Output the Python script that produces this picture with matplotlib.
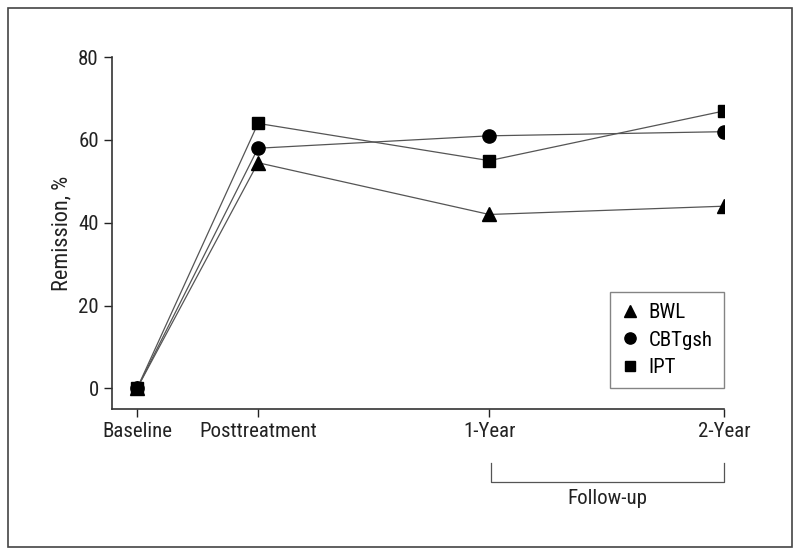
import matplotlib
matplotlib.use("Agg")
import matplotlib.pyplot as plt
from matplotlib.patches import Rectangle
from matplotlib.lines import Line2D

plt.rcParams['font.family'] = ['Roboto Condensed', 'Liberation Sans Narrow', 'Roboto', 'DejaVu Sans']

categories = ["Baseline", "Posttreatment", "1-Year", "2-Year"]
x_pos = [0, 0.515, 1.5, 2.5]
bwl = [0, 54.5, 42, 44]
cbt = [0, 58, 61, 62]
ipt = [0, 64, 55, 67]
yticks = [0, 20, 40, 60, 80]

fig = plt.figure(figsize=(8, 5.55), dpi=100)
ax = fig.add_axes([0.14, 0.263, 0.765, 0.634])

line_color = "#555555"
ax.plot(x_pos, bwl, color=line_color, lw=0.9, marker="^", ms=9.5, mfc="black", mec="black", label="BWL", zorder=3)
ax.plot(x_pos, cbt, color=line_color, lw=0.9, marker="o", ms=9.5, mfc="black", mec="black", label="CBTgsh", zorder=3)
ax.plot(x_pos, ipt, color=line_color, lw=0.9, marker="s", ms=8.5, mfc="black", mec="black", label="IPT", zorder=3)

ax.set_xlim(-0.107, 2.5)
ax.set_ylim(-5, 80)
ax.set_yticks(yticks)
ax.set_xticks(x_pos)
ax.set_xticklabels(categories)
ax.tick_params(labelsize=15, colors="#222222", length=6, width=1)
ax.set_ylabel("Remission, %", fontsize=16, color="#222222", labelpad=4)
for s in ["top", "right"]:
    ax.spines[s].set_visible(False)
for s in ["left", "bottom"]:
    ax.spines[s].set_color("#333333")
    ax.spines[s].set_linewidth(1.2)

leg = ax.legend(loc="lower right", bbox_to_anchor=(1.0, 5 / 85), borderaxespad=0, fontsize=15,
                frameon=True, fancybox=False, edgecolor="#666666", handlelength=0.8,
                handletextpad=0.5, borderpad=0.55, labelspacing=0.4, markerscale=0.85)
for h in leg.legend_handles:
    h.set_linestyle("None")
leg.get_frame().set_linewidth(1.0)

# Follow-up bracket
fig_x1 = 491 / 800
fig_x2 = 724 / 800
yb = 1 - 482 / 555
yt = 1 - 463 / 555
fig.add_artist(Line2D([fig_x1, fig_x1, fig_x2, fig_x2], [yt, yb, yb, yt], color="#555555", lw=0.9))
fig.text((fig_x1 + fig_x2) / 2, 1 - 498 / 555, "Follow-up", ha="center", va="center", fontsize=15, color="#222222")

fig.add_artist(Rectangle((8 / 800, 8 / 555), 784 / 800, 539 / 555, transform=fig.transFigure,
                         fill=False, edgecolor="#444444", lw=1.2))

fig.savefig("out.png", dpi=100)
